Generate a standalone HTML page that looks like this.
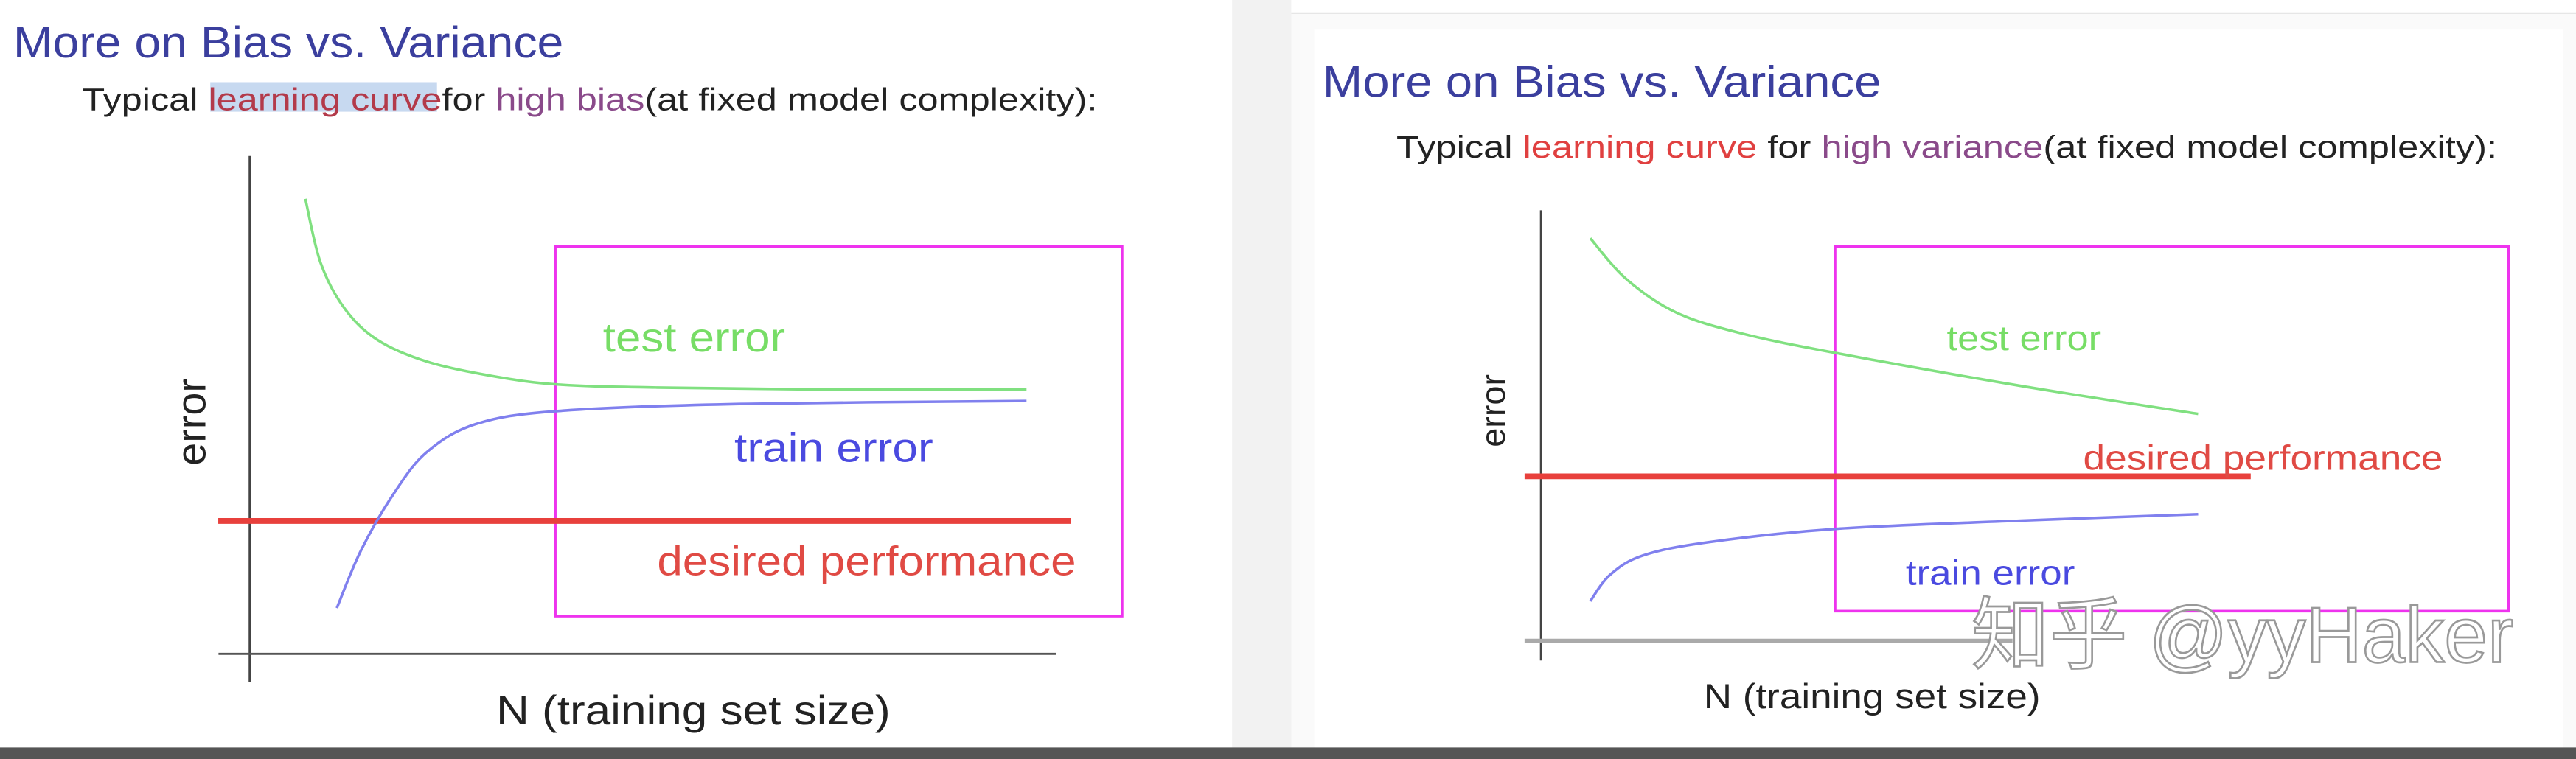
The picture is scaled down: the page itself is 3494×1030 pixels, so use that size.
<!DOCTYPE html>
<html><head><meta charset="utf-8"><style>
html,body{margin:0;padding:0;background:#fafafa}
svg{display:block}
text{font-family:"Liberation Sans","Noto Sans CJK SC",sans-serif}
</style></head><body>
<svg id="chart" width="3494" height="1030" viewBox="0 0 1568 462" preserveAspectRatio="none" xmlns="http://www.w3.org/2000/svg">
<rect x="0" y="0" width="1568" height="462" fill="#fafafa"/>
<rect x="0" y="0" width="750" height="455" fill="#ffffff"/>
<rect x="750" y="0" width="36" height="455" fill="#f2f2f2"/>
<rect x="786" y="0" width="782" height="8" fill="#ffffff"/>
<line x1="786" y1="8" x2="1568" y2="8" stroke="#e6e6e6" stroke-width="1"/>
<rect x="800" y="18" width="760" height="437" fill="#ffffff"/>
<rect x="0" y="455" width="1568" height="7" fill="#555555"/>

<text x="8" y="35" font-size="27" fill="#3b3f9e" textLength="335" lengthAdjust="spacingAndGlyphs">More on Bias vs. Variance</text>
<rect x="128" y="50" width="138" height="18" fill="#c7d9f0"/>
<text x="50" y="67" font-size="19" fill="#222" textLength="618" lengthAdjust="spacingAndGlyphs">Typical <tspan fill="#b33a4a">learning curve</tspan>for <tspan fill="#8a4a8a">high bias</tspan>(at fixed model complexity):</text>

<text x="805" y="59" font-size="27" fill="#3b3f9e" textLength="340" lengthAdjust="spacingAndGlyphs">More on Bias vs. Variance</text>
<text x="850" y="96" font-size="19" fill="#222" textLength="670" lengthAdjust="spacingAndGlyphs">Typical <tspan fill="#e04040">learning curve</tspan> for <tspan fill="#8a4a8a">high variance</tspan>(at fixed model complexity):</text>
<g id="plots"></g>
<text x="1200" y="403" font-size="48" fill="#ffffff" stroke="#999" stroke-width="1.2" textLength="330" lengthAdjust="spacingAndGlyphs">知乎 @yyHaker</text>
</svg>
<script>
// Left panel (high bias) data
const leftTestN = [6.9, 8.8, 11.8, 15.9, 22.0, 30.1, 38.3, 50.5, 70.9, 96.3];
const leftTestErr = [91.4, 78.5, 69.3, 63.0, 58.7, 55.8, 54.1, 53.5, 53.1, 53.1];
const leftTrainN = [10.8, 13.8, 17.9, 22.0, 28.1, 38.3, 60.7, 96.3];
const leftTrainErr = [9.2, 20.8, 32.3, 40.6, 46.2, 48.8, 50.2, 50.8];
const leftDesired = 26.7;
// Right panel (high variance) data
const rightTestN = [7.5, 13, 20.5, 30.5, 45, 73, 100];
const rightTestErr = [93.5, 84.0, 76.3, 71.4, 66.8, 59.2, 52.7];
const rightTrainN = [7.5, 10.5, 15.5, 25.5, 45, 73, 100];
const rightTrainErr = [9.2, 15.3, 19.8, 22.9, 26.0, 27.9, 29.4];
const rightDesired = 38.2;

const NS = "http://www.w3.org/2000/svg";
const g = document.getElementById('plots');
function el(tag, attrs, parent){const e=document.createElementNS(NS,tag);for(const k in attrs)e.setAttribute(k,attrs[k]);(parent||g).appendChild(e);return e;}
function smoothPath(xs, ys){
  const p = xs.map((x,i)=>[x,ys[i]]);
  let d = `M${p[0][0]},${p[0][1]}`;
  for(let i=0;i<p.length-1;i++){
    const p0=p[i-1]||p[i], p1=p[i], p2=p[i+1], p3=p[i+2]||p2;
    const c1=[p1[0]+(p2[0]-p0[0])/6,p1[1]+(p2[1]-p0[1])/6];
    const c2=[p2[0]-(p3[0]-p1[0])/6,p2[1]-(p3[1]-p1[1])/6];
    d+=` C${c1[0]},${c1[1]} ${c2[0]},${c2[1]} ${p2[0]},${p2[1]}`;
  }
  return d;
}
function panel(cfg){
  const xs = n => cfg.x0 + n*cfg.xu;
  const ys = e => cfg.y0 - e*cfg.yu;
  const grp = el('g',{});
  
  
  const ya = el('line',{x1:cfg.x0,y1:cfg.yTop,x2:cfg.x0,y2:cfg.yBot,stroke:'#444','stroke-width':1.3},grp);
  
  
  const xa = el('line',{x1:cfg.xaL,y1:cfg.xaY,x2:cfg.xaR,y2:cfg.xaY,stroke:cfg.xaColor,'stroke-width':cfg.xaW},grp);
  
  
  const box = el('rect',{x:cfg.box[0],y:cfg.box[1],width:cfg.box[2],height:cfg.box[3],fill:'none',stroke:'#ee33ee','stroke-width':1.6},grp);
  
  
  const dl = el('line',{x1:xs(cfg.dL),y1:ys(cfg.desired),x2:xs(cfg.dR),y2:ys(cfg.desired),stroke:'#e8403c','stroke-width':3.5},grp);
  
  
  const tp = el('path',{d:smoothPath(cfg.testN.map(xs),cfg.testE.map(ys)),fill:'none',stroke:'#80e080','stroke-width':1.6},grp);
  
  
  const rp = el('path',{d:smoothPath(cfg.trainN.map(xs),cfg.trainE.map(ys)),fill:'none',stroke:'#8080ee','stroke-width':1.6},grp);
  
  
  const labs = [['test error','#77dd66',cfg.lt,'test-error-label'],['train error','#4a4ae0',cfg.lr,'train-error-label'],['desired performance','#e04a44',cfg.ld,'desired-performance-label']];
  labs.forEach(l=>{
    const t = el('text',{x:l[2][0],y:l[2][1],'font-size':cfg.fs,fill:l[1],textLength:l[2][2],lengthAdjust:'spacingAndGlyphs'},grp);
    t.textContent=l[0];
    
    
  });
  const yt = el('text',{x:0,y:0,'font-size':cfg.fs,fill:'#222',transform:`translate(${cfg.yl[0]},${cfg.yl[1]}) rotate(-90)`,'text-anchor':'middle'},grp);
  yt.textContent='error';
  
  
  const xt = el('text',{x:cfg.xl[0],y:cfg.xl[1],'font-size':cfg.fs,fill:'#222',textLength:cfg.xl[2],lengthAdjust:'spacingAndGlyphs'},grp);
  xt.textContent='N (training set size)';
  
  
}
panel({name:'left',x0:152,xu:4.91,y0:398,yu:3.03,yTop:95,yBot:415,xaL:133,xaR:643,xaY:398,xaColor:'#555',xaW:1.3,
  box:[338,150,345,225],testN:leftTestN,testE:leftTestErr,trainN:leftTrainN,trainE:leftTrainErr,desired:leftDesired,dL:-3.9,dR:101.8,
  lt:[367,214,111],lr:[447,281,121],ld:[400,350,255],fs:25,yl:[125,257],xl:[302,441,240]});
panel({name:'right',x0:938,xu:4.0,y0:390,yu:2.62,yTop:128,yBot:402,xaL:928,xaR:1225,xaY:390,xaColor:'#aaa',xaW:2.5,
  box:[1117,150,410,222],testN:rightTestN,testE:rightTestErr,trainN:rightTrainN,trainE:rightTrainErr,desired:rightDesired,dL:-2.5,dR:108,
  lt:[1185,213,94],lr:[1160,356,103],ld:[1268,286,219],fs:21,yl:[916,250],xl:[1037,431,205]});
</script>
</body></html>
